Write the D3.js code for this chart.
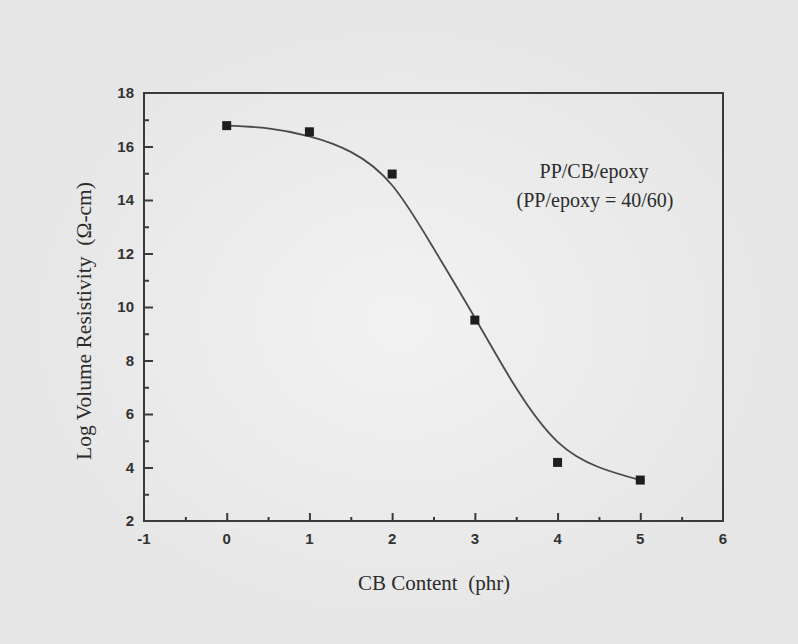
<!DOCTYPE html>
<html lang="en">
<head>
    <meta charset="UTF-8">
    <title>Log Volume Resistivity vs CB Content</title>
    <script src="https://cdn.jsdelivr.net/npm/d3@7"></script>
    <style>
        html, body { margin: 0; padding: 0; }
        body { background: #ebebeb; }
    </style>
</head>
<body>
<svg width="798" height="644"></svg>
<script>
    // measured points
    const cbContent = [0, 1, 2, 3, 4, 5];
    const logResistivity = [16.78, 16.55, 14.97, 9.51, 4.19, 3.53];

    // fitted curve
    const fitX = [0, 0.5, 1, 1.5, 2, 2.5, 3, 3.5, 4, 4.5, 5];
    const fitY = [16.78, 16.68, 16.38, 15.8, 14.55, 12.2, 9.6, 6.97, 4.96, 4.01, 3.53];

    const xTicks = [-1, 0, 1, 2, 3, 4, 5, 6];
    const yTicks = [2, 4, 6, 8, 10, 12, 14, 16, 18];

    const width = 798, height = 644;
    const margin = { top: 93, right: 75, bottom: 123, left: 144 };

    const svg = d3.select("svg");

    // scanned-paper background
    const grad = svg.append("defs").append("radialGradient").attr("id", "paper");
    grad.append("stop").attr("offset", "0%").attr("stop-color", "#f2f2f2");
    grad.append("stop").attr("offset", "100%").attr("stop-color", "#e6e6e6");
    svg.append("rect").attr("width", width).attr("height", height).attr("fill", "url(#paper)");

    const x = d3.scaleLinear().domain([-1, 6]).range([margin.left, width - margin.right]);
    const y = d3.scaleLinear().domain([2, 18]).range([height - margin.bottom, margin.top]);

    const axisColor = "#3a3a3a";
    const sans = "'Liberation Sans', Arial, sans-serif";
    const serif = "'Liberation Serif', 'Times New Roman', serif";

    // frame
    svg.append("rect")
        .attr("x", x(-1)).attr("y", y(18))
        .attr("width", x(6) - x(-1)).attr("height", y(2) - y(18))
        .attr("fill", "none").attr("stroke", axisColor).attr("stroke-width", 2);

    // left axis, ticks pointing inward
    svg.append("g").attr("transform", `translate(${x(-1)},0)`)
        .call(d3.axisRight(y).tickValues(d3.range(3, 18, 2)).tickSize(5).tickFormat(""))
        .call(g => g.select(".domain").remove());
    svg.append("g").attr("transform", `translate(${x(-1)},0)`)
        .call(d3.axisRight(y).tickValues(yTicks.slice(1, -1)).tickSize(9).tickFormat(""))
        .call(g => g.select(".domain").remove());

    // bottom axis, ticks pointing inward
    svg.append("g").attr("transform", `translate(0,${y(2)})`)
        .call(d3.axisTop(x).tickValues(d3.range(-0.5, 6, 1)).tickSize(4).tickFormat(""))
        .call(g => g.select(".domain").remove());
    svg.append("g").attr("transform", `translate(0,${y(2)})`)
        .call(d3.axisTop(x).tickValues(xTicks.slice(1, -1)).tickSize(8).tickFormat(""))
        .call(g => g.select(".domain").remove());

    svg.selectAll(".tick line").attr("stroke", axisColor).attr("stroke-width", 2);

    // tick labels
    svg.append("g").selectAll("text")
        .data(yTicks)
        .join("text")
        .attr("x", x(-1) - 10)
        .attr("y", d => y(d))
        .attr("dy", "0.36em")
        .attr("text-anchor", "end")
        .attr("font-family", sans)
        .attr("font-size", 15)
        .attr("font-weight", "bold")
        .attr("fill", "#333")
        .text(d => d);

    svg.append("g").selectAll("text")
        .data(xTicks)
        .join("text")
        .attr("x", d => x(d))
        .attr("y", y(2) + 23)
        .attr("text-anchor", "middle")
        .attr("font-family", sans)
        .attr("font-size", 15)
        .attr("font-weight", "bold")
        .attr("fill", "#333")
        .text(d => d);

    // fitted curve
    const line = d3.line()
        .x((d, i) => x(fitX[i]))
        .y(d => y(d))
        .curve(d3.curveNatural);
    svg.append("path")
        .datum(fitY)
        .attr("fill", "none")
        .attr("stroke", "#4a4a4a")
        .attr("stroke-width", 1.8)
        .attr("d", line);

    // squares
    const s = 9;
    svg.append("g").selectAll("rect")
        .data(logResistivity)
        .join("rect")
        .attr("x", (d, i) => x(cbContent[i]) - s / 2)
        .attr("y", d => y(d) - s / 2)
        .attr("width", s)
        .attr("height", s)
        .attr("fill", "#1e1e1e");

    // axis titles
    svg.append("text")
        .attr("x", 434)
        .attr("y", 590)
        .attr("text-anchor", "middle")
        .attr("font-family", serif)
        .attr("font-size", 21)
        .attr("fill", "#2b2b2b")
        .style("white-space", "pre")
        .text("CB Content  (phr)");

    svg.append("text")
        .attr("transform", "translate(91,321) rotate(-90)")
        .attr("text-anchor", "middle")
        .attr("font-family", serif)
        .attr("font-size", 21.5)
        .attr("fill", "#2b2b2b")
        .style("white-space", "pre")
        .text("Log Volume Resistivity  (Ω-cm)");

    // annotation
    svg.append("text")
        .attr("x", 594).attr("y", 178)
        .attr("text-anchor", "middle")
        .attr("font-family", serif)
        .attr("font-size", 20)
        .attr("fill", "#2b2b2b")
        .text("PP/CB/epoxy");
    svg.append("text")
        .attr("x", 595).attr("y", 207)
        .attr("text-anchor", "middle")
        .attr("font-family", serif)
        .attr("font-size", 20)
        .attr("fill", "#2b2b2b")
        .text("(PP/epoxy = 40/60)");
</script>
</body>
</html>
